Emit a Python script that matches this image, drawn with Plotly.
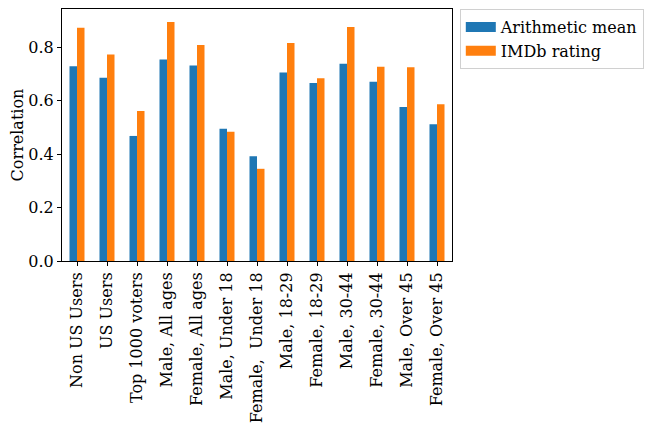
import plotly.graph_objects as go

categories = ["Non US Users", "US Users", "Top 1000 voters", "Male, All ages",
              "Female, All ages", "Male, Under 18", "Female,  Under 18", "Male, 18-29",
              "Female, 18-29", "Male, 30-44", "Female, 30-44", "Male, Over 45",
              "Female, Over 45"]
arithmetic_mean = [0.729, 0.686, 0.468, 0.754, 0.732, 0.495, 0.392, 0.705, 0.666,
                   0.738, 0.671, 0.576, 0.512]
imdb_rating = [0.873, 0.773, 0.561, 0.894, 0.808, 0.484, 0.345, 0.816, 0.684,
               0.876, 0.727, 0.725, 0.587]
series_names = ["Arithmetic mean", "IMDb rating"]
colors = ["#1f77b4", "#ff7f0e"]

font = "DejaVu Serif"
fig = go.Figure()
for name, vals, col in zip(series_names, [arithmetic_mean, imdb_rating], colors):
    fig.add_trace(go.Bar(x=categories, y=vals, name=name, showlegend=False,
                         marker=dict(color=col, line_width=0)))
# legend proxies (wide rectangular swatches like matplotlib)
for name, col in zip(series_names, colors):
    fig.add_trace(go.Scatter(x=[None], y=[None], mode="lines", name=name,
                             line=dict(color=col, width=10)))

fig.update_layout(
    width=657, height=423,
    margin=dict(l=54, r=213, t=1, b=170, autoexpand=False),
    paper_bgcolor="white", plot_bgcolor="white",
    barmode="group", bargap=0.5, bargroupgap=0,
    font=dict(family=font, size=16, color="black"),
    legend=dict(x=1.02, y=1.0, xanchor="left", yanchor="top",
                bordercolor="#d0d0d0", borderwidth=1, font=dict(size=16),
                tracegroupgap=0, itemwidth=30),
    xaxis=dict(showline=True, linecolor="black", linewidth=1, mirror=True,
               ticks="outside", ticklen=4, tickcolor="black", tickangle=-90,
               range=[-0.5, 12.5], tickfont=dict(size=16), automargin=False),
    yaxis=dict(showline=True, linecolor="black", linewidth=1, mirror=True,
               ticks="outside", ticklen=4, tickcolor="black",
               range=[0, 0.943], tickvals=[0, 0.2, 0.4, 0.6, 0.8],
               ticktext=["0.0", "0.2", "0.4", "0.6", "0.8"], showgrid=False,
               zeroline=False, tickfont=dict(size=16), automargin=False,
               title=dict(text="Correlation", font=dict(size=16), standoff=6)),
)
fig.write_html("out.html")
